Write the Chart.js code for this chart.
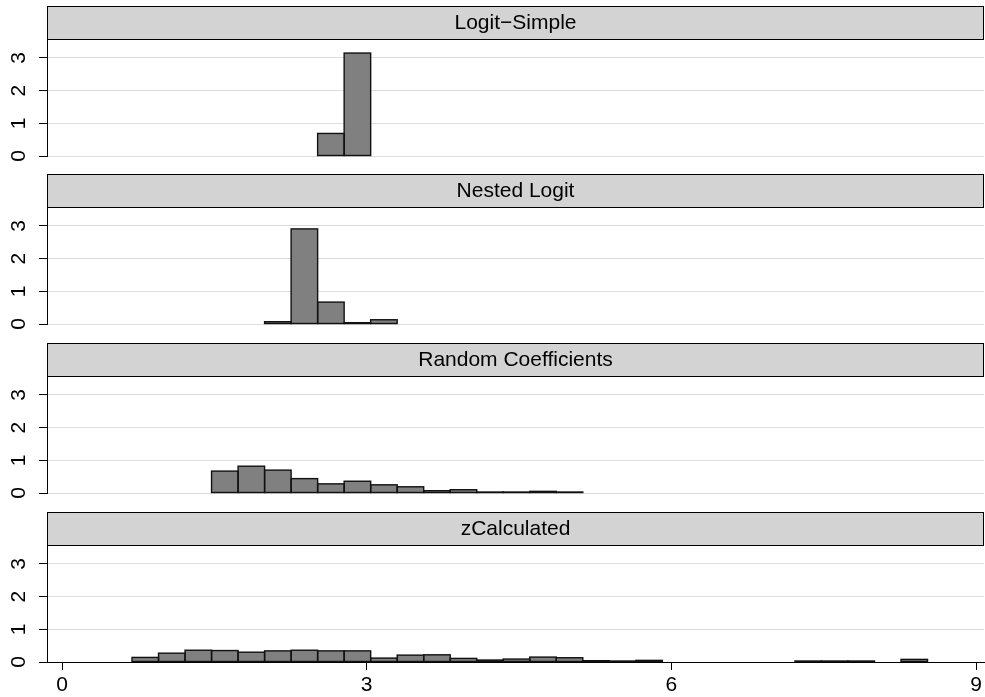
<!DOCTYPE html>
<html><head><meta charset="utf-8">
<script src="https://cdn.jsdelivr.net/npm/chart.js@4"></script>
<style>
html,body{margin:0;padding:0;background:#fff;overflow:hidden;width:985px;height:697px;position:relative;}
canvas.panel{position:absolute;left:0;}
</style></head><body>
<script>
// ---- data ----
const panelTitles = ['Logit\u2212Simple', 'Nested Logit', 'Random Coefficients', 'zCalculated'];
const binStart = 0.689;   // left edge of first histogram bin
const binWidth = 0.2611;  // width of each bin
const logitSimple = [0,0,0,0,0,0,0,0.69,3.15,0,0,0,0,0,0,0,0,0,0,0,0,0,0,0,0,0,0,0,0,0];
const nestedLogit = [0,0,0,0,0,0.07,2.91,0.67,0.04,0.13,0,0,0,0,0,0,0,0,0,0,0,0,0,0,0,0,0,0,0,0];
const randomCoef  = [0,0,0,0.67,0.82,0.70,0.44,0.28,0.36,0.25,0.19,0.07,0.10,0.03,0.03,0.05,0.03,0,0,0,0,0,0,0,0,0,0,0,0,0];
const zCalculated = [0.14,0.27,0.36,0.35,0.30,0.34,0.36,0.34,0.34,0.12,0.21,0.22,0.11,0.06,0.09,0.15,0.13,0.04,0.03,0.05,0,0,0,0,0,0.03,0.03,0.03,0,0.08];
const panelValues = [logitSimple, nestedLogit, randomCoef, zCalculated];
const xTicks = [0, 3, 6, 9];
const yTicks = [0, 1, 2, 3];

// ---- layout ----
const FONT = '"Liberation Sans", Arial, Helvetica, sans-serif';
const zeroY = [156, 324, 493, 662];
const STRIP = 33, PLOT = 117, AXISW = 47, CW = 1000, BOTPAD = 30;
const xMin = -0.148, xMax = 9.078, yMax = 3.58;

const stripPlugin = {
  id: 'strip',
  afterDraw(chart, args, opts) {
    const {ctx, chartArea} = chart;
    ctx.save();
    const top = chartArea.top - STRIP;
    ctx.fillStyle = '#d3d3d3';
    ctx.fillRect(chartArea.left, top, chartArea.right - chartArea.left, STRIP);
    ctx.strokeStyle = '#000';
    ctx.lineWidth = 1;
    ctx.strokeRect(chartArea.left + 0.5, top + 0.5, chartArea.right - chartArea.left - 1, STRIP);
    ctx.fillStyle = '#000';
    ctx.font = '21px ' + FONT;
    ctx.textAlign = 'center';
    ctx.textBaseline = 'middle';
    ctx.fillText(opts.title, (chartArea.left + chartArea.right) / 2, top + STRIP / 2 + 1);
    ctx.restore();
  }
};

// outline every bar (as Stata does), using the positions computed by Chart.js
const outlinePlugin = {
  id: 'outline',
  afterDatasetsDraw(chart) {
    const {ctx} = chart;
    const meta = chart.getDatasetMeta(0);
    ctx.save();
    ctx.strokeStyle = '#111';
    ctx.lineWidth = 1.4;
    meta.data.forEach((bar, k) => {
      const raw = chart.data.datasets[0].data[k];
      if (raw.y === null) return;
      const p = bar.getProps(['x', 'y', 'base', 'width'], true);
      ctx.strokeRect(p.x - p.width / 2, p.y, p.width, p.base - p.y);
    });
    ctx.restore();
  }
};

panelValues.forEach((vals, i) => {
  const last = i === panelValues.length - 1;
  const c = document.createElement('canvas');
  c.className = 'panel';
  const top = zeroY[i] - PLOT - STRIP - 1;
  const h = last ? 697 - top : PLOT + STRIP + 1 + BOTPAD;
  c.width = CW; c.height = h;
  c.style.top = top + 'px';
  c.style.width = CW + 'px'; c.style.height = h + 'px';
  document.body.appendChild(c);

  const data = vals.map((v, k) => ({x: binStart + (k + 0.5) * binWidth, y: v === 0 ? null : v}));

  new Chart(c, {
    type: 'bar',
    data: { datasets: [{
      data,
      backgroundColor: '#808080',
      borderWidth: 0,
      borderSkipped: false,
      barPercentage: 1,
      categoryPercentage: 1,
      inflateAmount: 0
    }]},
    options: {
      responsive: false,
      animation: false,
      devicePixelRatio: 1,
      layout: { padding: { top: STRIP + 1, left: 0, right: CW - 984, bottom: last ? 0 : BOTPAD } },
      plugins: { legend: {display: false}, tooltip: {enabled: false}, strip: {title: panelTitles[i]} },
      scales: {
        x: {
          type: 'linear',
          min: xMin, max: xMax,
          offset: false,
          display: last,
          afterBuildTicks: s => { s.ticks = xTicks.map(v => ({value: v})); },
          afterFit: s => { if (last) s.height = 697 - zeroY[i]; },
          grid: { offset: false, drawOnChartArea: false, drawTicks: true, tickLength: 8, tickColor: '#000', color: '#000', lineWidth: 1 },
          border: { display: true, color: '#000', width: 1 },
          ticks: { color: '#000', font: { family: FONT, size: 21 }, padding: 3, maxRotation: 0, minRotation: 0 }
        },
        y: {
          type: 'linear',
          min: 0, max: yMax,
          afterBuildTicks: s => { s.ticks = yTicks.map(v => ({value: v})); },
          afterFit: s => { s.width = AXISW; },
          grid: { color: '#dcdcdc', lineWidth: 1, drawTicks: true, tickLength: 8, tickColor: '#000' },
          border: { display: true, color: '#000', width: 1 },
          ticks: { color: '#000', font: { family: FONT, size: 21 }, padding: 14, minRotation: 90, maxRotation: 90, crossAlign: 'center' }
        }
      }
    },
    plugins: [stripPlugin, outlinePlugin]
  });
});
</script>
</body></html>
